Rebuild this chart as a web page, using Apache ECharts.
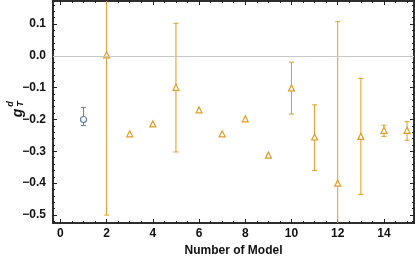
<!DOCTYPE html>
<html><head><meta charset="utf-8">
<script src="https://cdn.jsdelivr.net/npm/echarts@6/dist/echarts.min.js"></script>
<style>html,body{margin:0;padding:0;background:#fff}#c{width:415px;height:262px}</style>
</head><body><div id="c"></div>
<script>
var models = [1,2,3,4,5,6,7,8,9,10,11,12,13,14,15];
var values = [-0.2, 0.003, -0.245, -0.214, -0.099, -0.17, -0.245, -0.198, -0.312, -0.101, -0.255, -0.4, -0.253, -0.234, -0.234];
var upper  = [-0.162, 0.5, null, null, 0.102, null, null, null, null, -0.02, -0.154, 0.107, -0.071, -0.218, -0.207];
var lower  = [-0.219, -0.5, null, null, -0.302, null, null, null, null, -0.183, -0.36, -0.91, -0.435, -0.253, -0.265];
var groups = [0,1,1,1,1,1,1,1,1,1,1,1,1,1,1];
var xMajor = [0,2,4,6,8,10,12,14];
var yMajor = [-0.5,-0.4,-0.3,-0.2,-0.1,0.0,0.1];

var BLUE = '#5E81B5', ORANGE = '#E19C24', FRAME = '#222';
var xMinor = []; for (var i = 0; i <= 30; i++) { var v = i*0.5; if (v % 2 !== 0) xMinor.push(v); }
var yMinor = []; for (var j = -26; j <= 8; j++) { if (j % 5 !== 0) yMinor.push(j/50); }

function ptsFor(g){ var out=[]; models.forEach(function(m,i){ if(groups[i]===g) out.push([m, values[i]]); }); return out; }
function errFor(g){ var out=[]; models.forEach(function(m,i){ if(groups[i]===g && lower[i]!==null) out.push([m, lower[i], upper[i]]); }); return out; }

function renderErr(color){
  return function(params, api){
    var x = api.value(0), lo = api.coord([x, api.value(1)]), hi = api.coord([x, api.value(2)]);
    var w = 2.5;
    var st = {stroke: color, lineWidth: 1};
    return {type:'group', children:[
      {type:'line', shape:{x1:lo[0],y1:lo[1],x2:hi[0],y2:hi[1]}, style:st},
      {type:'line', shape:{x1:lo[0]-w,y1:lo[1],x2:lo[0]+w,y2:lo[1]}, style:st},
      {type:'line', shape:{x1:hi[0]-w,y1:hi[1],x2:hi[0]+w,y2:hi[1]}, style:st}
    ]};
  };
}
var font = {fontFamily:'Liberation Sans', fontWeight:'bold', fontSize:12, color:'#111'};
function xAx(pos, ticks, len, labels){
  return {type:'value', position:pos, min:-0.32, max:15.3, splitLine:{show:false},
    axisLine:{show:true, onZero:false, lineStyle:{color:FRAME, width:1.5}},
    axisTick:{show:true, inside:true, length:len, customValues:ticks, lineStyle:{color:FRAME, width:1}},
    axisLabel: labels ? Object.assign({show:true, customValues:xMajor, margin:5}, font) : {show:false},
    name: (labels ? 'Number of Model' : ''), nameLocation:'middle', nameGap:17,
    nameTextStyle: font};
}
function yAx(pos, ticks, len, labels){
  return {type:'value', position:pos, min:-0.525, max:0.172, splitLine:{show:false},
    axisLine:{show:true, onZero:false, lineStyle:{color:FRAME, width:1.5}},
    axisTick:{show:true, inside:true, length:len, customValues:ticks, lineStyle:{color:FRAME, width:1}},
    axisLabel: labels ? Object.assign({show:true, customValues:yMajor, margin:7,
      formatter:function(v){ return (v < -1e-9 ? '\u2212' : '') + Math.abs(v).toFixed(1); }}, font) : {show:false}};
}

var chart = echarts.init(document.getElementById('c'), null, {renderer:'canvas'});
chart.setOption({
  animation:false,
  grid:{left:53, right:1, top:1, bottom:39},
  xAxis:[xAx('bottom', xMajor, 4, true), xAx('bottom', xMinor, 2, false), xAx('top', xMajor, 4, false), xAx('top', xMinor, 2, false)],
  yAxis:[yAx('left', yMajor, 4, true), yAx('left', yMinor, 2, false), yAx('right', yMajor, 4, false), yAx('right', yMinor, 2, false)],
  graphic:[{type:'group', x:18, y:113, rotation:Math.PI/2, children:[
    {type:'text', x:0, y:0, style:{text:'g', font:'italic bold 14px "Liberation Sans"', fill:'#111', textVerticalAlign:'middle', textAlign:'center'}},
    {type:'text', x:9, y:-7, style:{text:'d', font:'italic bold 9px "Liberation Sans"', fill:'#111', textVerticalAlign:'middle', textAlign:'center'}},
    {type:'text', x:9, y:3, style:{text:'T', font:'italic bold 9px "Liberation Sans"', fill:'#111', textVerticalAlign:'middle', textAlign:'center'}}
  ]}],
  series:[
    {type:'custom', xAxisIndex:0, yAxisIndex:0, clip:true, renderItem:renderErr(BLUE), data:errFor(0), z:2,
     markLine:{silent:true, symbol:'none', label:{show:false}, lineStyle:{color:'#c8c8c8', width:1, type:'solid'}, data:[{yAxis:0}]}},
    {type:'custom', xAxisIndex:0, yAxisIndex:0, clip:true, renderItem:renderErr(ORANGE), data:errFor(1), z:2},
    {type:'scatter', xAxisIndex:0, yAxisIndex:0, symbol:'circle', symbolSize:6, data:ptsFor(0), z:3,
     itemStyle:{color:'#fff', borderColor:BLUE, borderWidth:1.2, opacity:1}},
    {type:'scatter', xAxisIndex:0, yAxisIndex:0, symbol:'triangle', symbolSize:6, data:ptsFor(1), z:3,
     itemStyle:{color:'#fff', borderColor:ORANGE, borderWidth:1.2, opacity:1}}
  ]
});
</script></body></html>
